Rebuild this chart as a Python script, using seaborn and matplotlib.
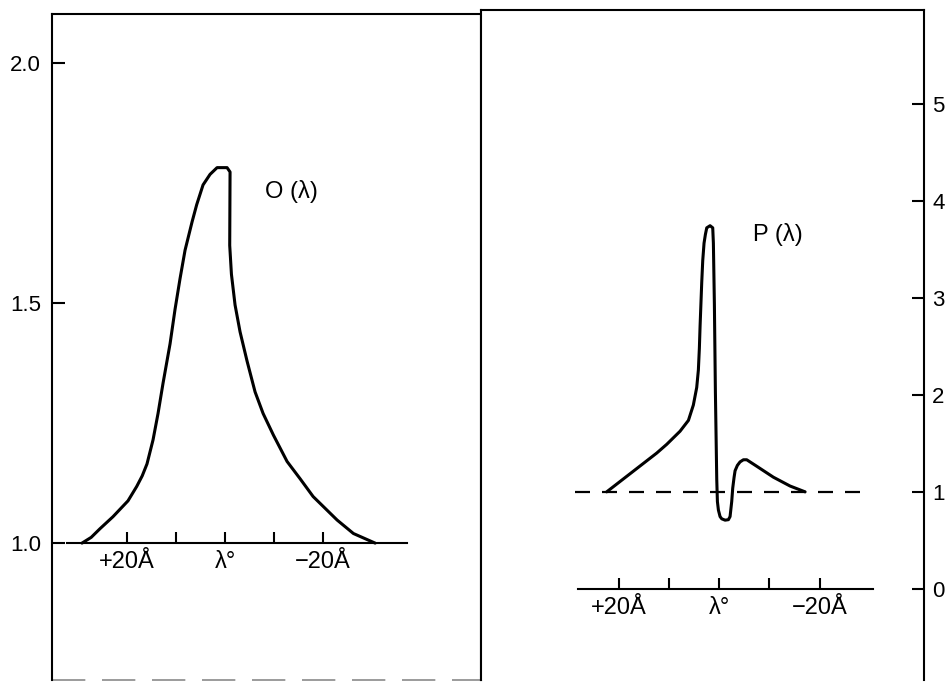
import matplotlib
matplotlib.use("Agg")
import matplotlib.pyplot as plt
import seaborn as sns

# -------------------------------
# Data (offset from line centre, in Angstrom)
# -------------------------------
o_offset = [29.18, 27.3, 25.51, 22.86, 19.80, 18.02, 16.9, 15.92, 14.69, 13.67,
            12.65, 11.22, 10.20, 9.18, 8.16, 6.73, 5.78, 4.49, 3.06, 1.63,
            -0.41, -1.02, -0.95, -1.30, -2.04, -3.06, -4.49, -6.12, -7.76,
            -9.86, -12.65, -15.31, -17.96, -22.86, -26.18, -30.61]
o_value = [1.0, 1.012, 1.03, 1.055, 1.088, 1.118, 1.14, 1.165, 1.215, 1.27,
           1.333, 1.415, 1.487, 1.551, 1.61, 1.669, 1.705, 1.746, 1.768, 1.782,
           1.782, 1.773, 1.62, 1.56, 1.496, 1.44, 1.379, 1.315, 1.27,
           1.225, 1.17, 1.134, 1.097, 1.048, 1.02, 1.0]

p_offset = [22.37, 12.41, 10.42, 7.77, 6.10, 5.12, 4.45, 4.12, 3.92, 3.78,
            3.45, 3.25, 2.99, 2.72, 2.45, 1.79, 1.26, 1.13, 0.93, 0.73,
            0.46, 0.33, 0.13, -0.20, -0.53, -1.20, -1.86, -2.19, -2.52, -2.72,
            -2.99, -3.19, -3.65, -4.18, -4.85, -5.51, -7.50, -10.82, -14.14, -17.13]
p_value = [1.0, 1.40, 1.49, 1.625, 1.737, 1.895, 2.076, 2.256, 2.482, 2.708,
           3.159, 3.385, 3.565, 3.655, 3.723, 3.745, 3.723, 3.565, 2.933, 2.03,
           1.128, 0.90, 0.812, 0.745, 0.722, 0.708, 0.713, 0.745, 0.90, 1.038,
           1.15, 1.218, 1.273, 1.309, 1.331, 1.331, 1.264, 1.151, 1.06, 1.0]

x_ticks = [20, 10, 0, -10, -20]
x_labels = ["+20Å", "", "λ°", "", "\u221220Å"]
o_ticks = [1.0, 1.5, 2.0]
o_tick_labels = ["1.0", "1.5", "2.0"]
p_ticks = [0, 1, 2, 3, 4, 5]
p_tick_labels = ["0", "1", "2", "3", "4", "5"]

# -------------------------------
# Style
# -------------------------------
sns.set_style("white")
plt.rcParams["font.family"] = ["Liberation Sans", "DejaVu Sans"]
plt.rcParams["font.size"] = 16
plt.rcParams["text.color"] = "black"
plt.rcParams["xtick.color"] = "black"
plt.rcParams["ytick.color"] = "black"

fig = plt.figure(figsize=(9.47, 6.82), dpi=100)
ax_o = fig.add_axes([0.0549, 0.003, 0.4530, 0.9765])
ax_p = fig.add_axes([0.5079, 0.003, 0.4678, 0.9824])

for ax in (ax_o, ax_p):
    for s in ax.spines.values():
        s.set_linewidth(1.5)
        s.set_color("black")

# -------------------------------
# Left panel: O(lambda)
# -------------------------------
sns.lineplot(x=o_offset, y=o_value, sort=False, estimator=None,
             color="black", linewidth=2.2, ax=ax_o)
ax_o.set_xlim(35.3, -52.2)
ax_o.set_ylim(0.715, 2.102)
ax_o.set_yticks(o_ticks, o_tick_labels)
ax_o.set_xticks(x_ticks, x_labels)
ax_o.spines["bottom"].set_position(("data", 1.0))
ax_o.spines["bottom"].set_bounds(32.2, -37.1)
ax_o.tick_params(axis="y", left=True, direction="in", length=9.5, width=1.5,
                 pad=8, labelsize=16, colors="black")
ax_o.tick_params(axis="x", bottom=True, direction="in", length=8, width=1.5,
                 pad=6, labelsize=17, colors="black")
ax_o.axhline(0.715, color="#8a8a8a", linewidth=1.2, linestyle=(0, (20, 10)),
             clip_on=False)
ax_o.text(-8.2, 1.732, "O (λ)", fontsize=17, va="center", ha="left",
          color="black")
ax_o.set(xlabel="", ylabel="")

# -------------------------------
# Right panel: P(lambda)
# -------------------------------
sns.lineplot(x=p_offset, y=p_value, sort=False, estimator=None,
             color="black", linewidth=2.2, ax=ax_p)
ax_p.hlines(1.0, 28.69, -28.49, color="black", linewidth=1.6,
            linestyle=(0, (6.75, 5.4)))
ax_p.set_xlim(47.4, -40.8)
ax_p.set_ylim(-0.94, 5.97)
ax_p.yaxis.tick_right()
ax_p.set_yticks(p_ticks, p_tick_labels)
ax_p.set_xticks(x_ticks, x_labels)
ax_p.spines["bottom"].set_position(("data", 0.0))
ax_p.spines["bottom"].set_bounds(28.09, -30.68)
ax_p.tick_params(axis="y", right=True, left=False, direction="in", length=9,
                 width=1.5, pad=6, labelsize=16, colors="black")
ax_p.tick_params(axis="x", bottom=True, direction="in", length=8, width=1.5,
                 pad=6, labelsize=17, colors="black")
ax_p.text(-6.77, 3.655, "P (λ)", fontsize=17, va="center", ha="left",
          color="black")
ax_p.set(xlabel="", ylabel="")

plt.savefig("out.png", dpi=100)
plt.close()
